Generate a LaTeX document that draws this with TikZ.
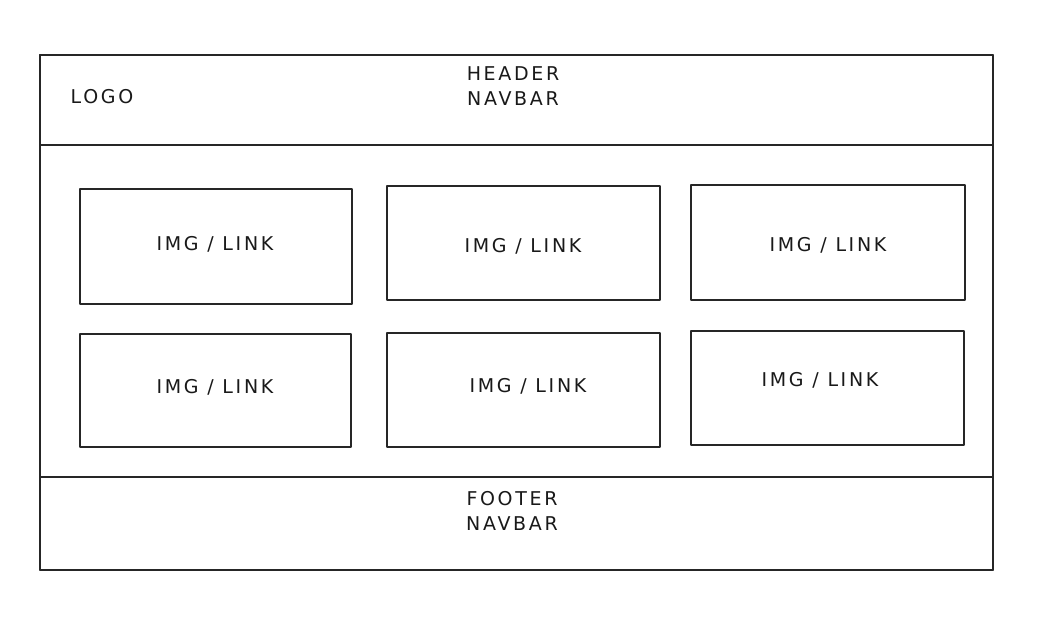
\documentclass[tikz,border=0pt]{standalone}
\usepackage{fontspec}
\setmainfont{DejaVu Sans}[LetterSpace=14]
\begin{document}
\begin{tikzpicture}[x=1pt,y=-1pt,
  frame/.style={draw=black!85, line width=1.3pt, inner sep=0pt, line join=round},
  lbl/.style={font=\fontsize{19}{25}\selectfont, text=black!90, inner sep=0pt, align=center}]
\useasboundingbox (0,0) rectangle (1039,617);
% page frame, header and footer
\node[frame, minimum width=953pt, minimum height=515pt] (page) at (516.5,312.5) {};
\node[frame, minimum width=953pt, minimum height=90pt] (header) at (516.5,100) {};
\node[frame, minimum width=953pt, minimum height=93pt] (footer) at (516.5,523.5) {};
% header and footer texts
\node[lbl] (logo) at (102,97) {LOGO};
\node[lbl] (hnav) at (513,86) {HEADER\\NAVBAR};
\node[lbl] (fnav) at (512,511) {FOOTER\\NAVBAR};
% grid of image boxes
\node[frame, minimum width=272pt, minimum height=115pt] (b1) at (216,246.5) {};
\node[frame, minimum width=273pt, minimum height=114pt] (b2) at (523.5,243) {};
\node[frame, minimum width=274pt, minimum height=115pt] (b3) at (828,242.5) {};
\node[frame, minimum width=271pt, minimum height=113pt] (b4) at (215.5,390.5) {};
\node[frame, minimum width=273pt, minimum height=114pt] (b5) at (523.5,390) {};
\node[frame, minimum width=273pt, minimum height=114pt] (b6) at (827.5,388) {};
\node[lbl] (t1) at (215,244) {IMG / LINK};
\node[lbl] (t2) at (523,246) {IMG / LINK};
\node[lbl] (t3) at (828,245) {IMG / LINK};
\node[lbl] (t4) at (215,387) {IMG / LINK};
\node[lbl] (t5) at (528,386) {IMG / LINK};
\node[lbl] (t6) at (820,380) {IMG / LINK};
\end{tikzpicture}
\end{document}
